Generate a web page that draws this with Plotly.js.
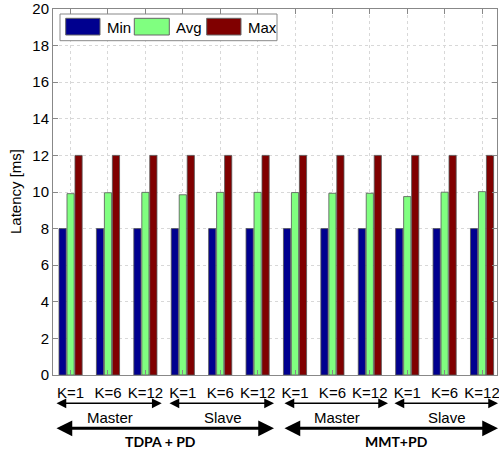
<!DOCTYPE html>
<html><head><meta charset="utf-8">
<script src="https://cdn.plot.ly/plotly-3.0.1.min.js"></script>
<style>html,body{margin:0;padding:0;background:#fff}#chart{width:499px;height:450px}</style>
</head><body><div id="chart"></div>
<script>
const categories = [1,2,3,4,5,6,7,8,9,10,11,12];
const tickLabels = ["K=1","K=6","K=12","K=1","K=6","K=12","K=1","K=6","K=12","K=1","K=6","K=12"];
const seriesNames = ["Min","Avg","Max"];
const minValues = [8,8,8,8,8,8,8,8,8,8,8,8];
const avgValues = [9.91,9.96,9.98,9.85,9.98,9.98,9.97,9.93,9.93,9.75,9.99,10.02];
const maxValues = [12,12,12,12,12,12,12,12,12,12,12,12];
const colors = ["#00008F","#80FF80","#800000"];
const groupLabels = ["Master","Slave","Master","Slave"];
const methodLabels = ["TDPA + PD","MMT+PD"];
const yTitle = "Latency [ms]";

const W=499,H=450,L=53,R=2,T=9,B=75;
const pw=W-L-R, ph=H-T-B;
const px=x=>(x-L)/pw, py=y=>(H-B-y)/ph;

const vals=[minValues,avgValues,maxValues];
const traces = vals.map((v,i)=>({
  type:'bar', x:categories, y:v, name:seriesNames[i],
  marker:{color:colors[i], line:{color:'#555', width:0.8}},
  showlegend:false, hoverinfo:'skip'
}));

const font='"Liberation Sans", Arial, sans-serif';
const shapes=[], annotations=[];
// legend (manual, to match large swatches)
shapes.push({type:'rect',xref:'paper',yref:'paper',x0:px(60),x1:px(277),y0:py(40.7),y1:py(14),line:{color:'#888',width:1},fillcolor:'#fff'});
const sw=[[65.7,100,105],[134.3,169.3,174],[206.7,241,246]];
sw.forEach((s,i)=>{
  shapes.push({type:'rect',xref:'paper',yref:'paper',x0:px(s[0]),x1:px(s[1]),y0:py(35),y1:py(18.3),line:{color:'#666',width:1},fillcolor:colors[i]});
  annotations.push({xref:'paper',yref:'paper',x:px(s[2]),y:py(27),xanchor:'left',yanchor:'middle',text:seriesNames[i],showarrow:false,font:{family:font,size:15,color:'#000'}});
});
// y title
annotations.push({xref:'paper',yref:'paper',x:px(15),y:0.5,xanchor:'center',yanchor:'middle',textangle:-90,text:yTitle,showarrow:false,font:{family:font,size:15,color:'#000'}});
// brackets row 1
const row1=[[55,161.7],[168,274],[283,388],[393,499]];
const row1Text=[110,222.7,336.7,446.7];
row1.forEach((r,i)=>{
  annotations.push({xref:'paper',yref:'paper',x:px(r[1]),y:py(403.3),axref:'pixel',ayref:'pixel',ax:-(r[1]-r[0]),ay:0,text:'',showarrow:true,arrowside:'end+start',arrowhead:2,arrowsize:1.3,arrowwidth:1.5,arrowcolor:'#000',standoff:0,startstandoff:0});
  annotations.push({xref:'paper',yref:'paper',x:px(row1Text[i]),y:py(417.7),xanchor:'center',yanchor:'middle',text:groupLabels[i],showarrow:false,font:{family:font,size:15,color:'#000'}});
});
const row2=[[55,274],[283,500]];
const row2Text=[160,396.7];
row2.forEach((r,i)=>{
  annotations.push({xref:'paper',yref:'paper',x:px(r[1]),y:py(428.3),axref:'pixel',ayref:'pixel',ax:-(r[1]-r[0]),ay:0,text:'',showarrow:true,arrowside:'end+start',arrowhead:2,arrowsize:1.05,arrowwidth:3,arrowcolor:'#000',standoff:0,startstandoff:0});
  annotations.push({xref:'paper',yref:'paper',x:px(row2Text[i]),y:py(441),xanchor:'center',yanchor:'middle',text:'<b>'+methodLabels[i]+'</b>',showarrow:false,font:{family:'Lato, "Open Sans", sans-serif',size:14,color:'#000'}});
});

const layout={
  width:W,height:H,margin:{l:L,r:R,t:T,b:B,pad:0},
  paper_bgcolor:'#fff',plot_bgcolor:'#fff',
  barmode:'group',bargap:0.36,bargroupgap:0.1,
  font:{family:font,size:15,color:'#000'},
  xaxis:{range:[0.53,12.4],tickmode:'array',tickvals:categories,ticktext:tickLabels,
    showgrid:true,gridcolor:'#d8d8d8',griddash:'dot',gridwidth:1,
    showline:true,linecolor:'#888',linewidth:1,mirror:'ticks',ticks:'inside',ticklen:5,tickcolor:'#888',
    tickfont:{family:font,size:15,color:'#000'},zeroline:false,ticklabelstandoff:4,ticklabeloverflow:'allow'},
  yaxis:{range:[0,20],tickmode:'linear',tick0:0,dtick:2,
    showgrid:true,gridcolor:'#d8d8d8',griddash:'dot',gridwidth:1,
    showline:true,linecolor:'#888',linewidth:1,mirror:'ticks',ticks:'inside',ticklen:5,tickcolor:'#888',
    tickfont:{family:font,size:15,color:'#000'},zeroline:false,ticklabeloverflow:'allow'},
  shapes:shapes,annotations:annotations
};
Plotly.newPlot('chart',traces,layout,{displayModeBar:false,staticPlot:true});
</script></body></html>
